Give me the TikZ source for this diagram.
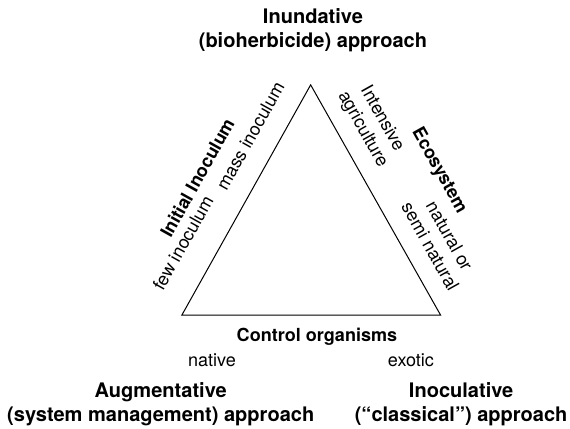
\documentclass[tikz,border=0pt]{standalone}
\usepackage{fontspec}
\setmainfont{TeX Gyre Heros}

\begin{document}
\begin{tikzpicture}[
		approach/.style = {align=center, font=\fontsize{10}{12}\selectfont\bfseries},
		axis/.style = {font=\fontsize{9}{11}\selectfont\bfseries},
		pole/.style = {align=center, font=\fontsize{9}{11}\selectfont}
	]
		\useasboundingbox (0,0) rectangle (10,7.509);
		% corners of the triangle
		\coordinate (aug) at (3.19,1.98);
		\coordinate (ino) at (7.73,1.98);
		\coordinate (inu) at (5.45,6.02);
		\draw[line width=0.5pt] (aug) -- (ino) -- (inu) -- cycle;
		% approaches
		\node[approach] (inundative) at (5.49,6.98) {Inundative\\(bioherbicide) approach};
		\node[approach] (augmentative) at (2.82,0.42) {Augmentative\\(system management) approach};
		\node[approach] (inoculative) at (8.09,0.42) {Inoculative\\(``classical'') approach};
		% left side
		\node[pole, rotate=60.8] (few) at (3.21,3.25) {few inoculum};
		\node[axis, rotate=60.8] (inoculum) at (3.46,4.39) {Initial Inoculum};
		\node[pole, rotate=60.8] (mass) at (4.39,5.12) {mass inoculum};
		% right side
		\node[pole, rotate=-60.8] (intensive) at (6.53,5.33) {Intensive\\agriculture};
		\node[axis, rotate=-60.8] (ecosystem) at (7.70,4.51) {Ecosystem};
		\node[pole, rotate=-60.8] (natural) at (7.72,3.28) {natural or\\semi natural};
		% bottom
		\node[axis] (control) at (5.56,1.60) {Control organisms};
		\node[pole] (native) at (3.72,1.19) {native};
		\node[pole] (exotic) at (7.21,1.19) {exotic};
	\end{tikzpicture}
\end{document}
